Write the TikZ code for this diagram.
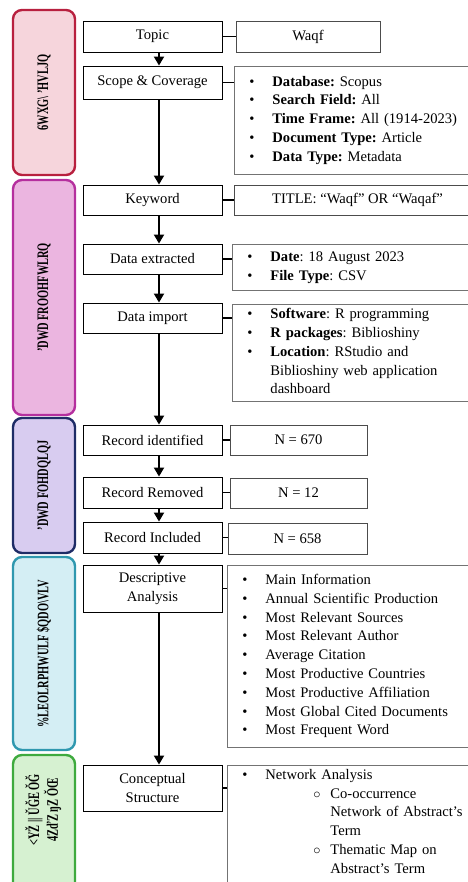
\documentclass[tikz,border=0pt]{standalone}
\usepackage{fontspec}
\setmainfont{Liberation Serif}
\usepackage{graphicx}
\usetikzlibrary{arrows.meta}
\setlength{\parindent}{0pt}
\frenchspacing

\definecolor{sdfill}{HTML}{F6D5DC}
\definecolor{sdline}{HTML}{B8203F}
\definecolor{dcfill}{HTML}{EBB5E0}
\definecolor{dcline}{HTML}{B52F9E}
\definecolor{clfill}{HTML}{D8CCF0}
\definecolor{clline}{HTML}{1E2C66}
\definecolor{bafill}{HTML}{D4EEF4}
\definecolor{baline}{HTML}{2F98AF}
\definecolor{vsfill}{HTML}{D6F1D1}
\definecolor{vsline}{HTML}{3EAA3E}

\newcommand{\sidetxt}[1]{\rotatebox{90}{\scalebox{0.65}[1]{\fontsize{16}{16}\selectfont\bfseries #1}}}

\begin{document}
\begin{tikzpicture}[
	x=1pt, y=-1pt,
	font=\fontsize{14.6}{18.8}\selectfont\frenchspacing,
	box/.style={draw, line width=0.9pt, minimum width=139pt, minimum height=30pt, inner sep=0pt, align=center},
	info/.style={draw=black!70, line width=0.9pt, minimum height=30pt, inner sep=0pt, align=center},
	list/.style={draw=black!55, line width=0.9pt, inner xsep=15pt, inner ysep=0pt, align=left, anchor=west},
	side/.style={line width=2.4pt, rounded corners=9pt, minimum width=62pt, inner sep=0pt},
	arr/.style={line width=2pt, -{Triangle[width=10pt,length=9pt]}},
	link/.style={line width=1.4pt}
	]
\useasboundingbox (0,0) rectangle (467,882);

% side phases
\node[side, draw=sdline, fill=sdfill, minimum height=165pt] (design) at (44,92.5) {\sidetxt{6WXG\textbackslash\ 'HVLJQ}};
\node[side, draw=dcline, fill=dcfill, minimum height=235pt] (collect) at (44,297.5) {\sidetxt{'DWD FROOHFWLRQ}};
\node[side, draw=clline, fill=clfill, minimum height=135pt] (clean) at (44,485.5) {\sidetxt{'DWD FOHDQLQJ}};
\node[side, draw=baline, fill=bafill, minimum height=193pt] (biblio) at (44,653.5) {\sidetxt{\%LEOLRPHWULF \$QDO\textbackslash VLV}};
\node[side, draw=vsline, fill=vsfill, minimum height=145pt] (visual) at (44,827.5) {};
\node (visualtxt) at ([yshift=-56pt]visual.north) {\sidetxt{\begin{tabular}{@{}c@{}}<YŽ || ŬĞE ŎĞ\\ 4ZďZ ŋZ ŎŒ\end{tabular}}};

% left column
\node[box, minimum height=31pt] (topic) at (152.5,36.5) {Topic};
\node[box, minimum height=33pt] (scope) at (152.5,82.5) {Scope \& Coverage};
\node[box] (keyword) at (152.5,200) {Keyword};
\node[box] (extracted) at (152.5,259) {Data extracted};
\node[box] (import) at (152.5,318) {Data import};
\node[box] (identified) at (152.5,440) {Record identified};
\node[box, minimum height=31pt] (removed) at (152.5,492.5) {Record Removed};
\node[box, minimum height=31pt] (included) at (152.5,537.5) {Record Included};
\node[box, minimum height=47pt] (descriptive) at (152.5,588.5) {Descriptive\\Analysis};
\node[box, minimum height=46pt] (conceptual) at (152.5,788) {Conceptual\\Structure};

% right column
\node[info, minimum width=144pt, minimum height=31pt] (waqf) at (308,36.5) {Waqf};
\node[list, text width=216pt, minimum height=108pt] (scopelist) at (234,120) {%
\begin{tabular}{@{}p{23pt}@{}l@{}}
\textbullet & \textbf{Database:} Scopus\\
\textbullet & \textbf{Search Field:} All\\
\textbullet & \textbf{Time Frame:} All (1914-2023)\\
\textbullet & \textbf{Document Type:} Article\\
\textbullet & \textbf{Data Type:} Metadata
\end{tabular}};
\node[info, minimum width=246pt, anchor=west] (keyterm) at (234,200) {TITLE: “Waqf” OR “Waqaf”};
\node[list, text width=218pt, minimum height=46pt] (exinfo) at (232,267) {%
\begin{tabular}{@{}p{23pt}@{}l@{}}
\textbullet & \textbf{Date}: 18 August 2023\\
\textbullet & \textbf{File Type}: CSV
\end{tabular}};
\node[list, text width=218pt, minimum height=97pt] (iminfo) at (232,352.5) {%
\begin{tabular}{@{}p{23pt}@{}l@{}}
\textbullet & \textbf{Software}: R programming\\
\textbullet & \textbf{R packages}: Biblioshiny\\
\textbullet & \textbf{Location}: RStudio and\\
 & Biblioshiny web application\\
 & dashboard
\end{tabular}};
\node[info, minimum width=137pt] (n670) at (298.5,440) {N = 670};
\node[info, minimum width=137pt] (n12) at (298.5,493) {N = 12};
\node[info, minimum width=139pt, minimum height=31pt] (n658) at (297.5,538.5) {N = 658};
\node[list, text width=223pt, minimum height=182pt] (desclist) at (227,656) {%
\begin{tabular}{@{}p{23pt}@{}l@{}}
\textbullet & Main Information\\
\textbullet & Annual Scientific Production\\
\textbullet & Most Relevant Sources\\
\textbullet & Most Relevant Author\\
\textbullet & Average Citation\\
\textbullet & Most Productive Countries\\
\textbullet & Most Productive Affiliation\\
\textbullet & Most Global Cited Documents\\
\textbullet & Most Frequent Word
\end{tabular}};
\node[list, text width=223pt, minimum height=152.6pt] (conclist) at (227,841.3) {%
\begin{tabular}{@{}p{23pt}@{}p{48pt}@{}p{17pt}@{}l@{}}
\textbullet & \multicolumn{3}{@{}l@{}}{Network Analysis}\\
 & & $\circ$ & Co-occurrence\\
 & & & Network of Abstract’s\\
 & & & Term\\
 & & $\circ$ & Thematic Map on\\
 & & & Abstract’s Term\\
 & & & \\
 & & &
\end{tabular}};

% flow
\coordinate (spine) at (159,0);
\draw[arr] (topic.south -| spine) -- (scope.north -| spine);
\draw[arr] (scope.south -| spine) -- (keyword.north -| spine);
\draw[arr] (keyword.south -| spine) -- (extracted.north -| spine);
\draw[arr] (extracted.south -| spine) -- (import.north -| spine);
\draw[arr] (import.south -| spine) -- (identified.north -| spine);
\draw[arr] (identified.south -| spine) -- (removed.north -| spine);
\draw[arr] (removed.south -| spine) -- (included.north -| spine);
\draw[arr] (included.south -| spine) -- (descriptive.north -| spine);
\draw[arr] (descriptive.south -| spine) -- (conceptual.north -| spine);

% links to details
\draw[link] (topic.east) -- (waqf.west);
\draw[link] (scope.east) -- (scope.east -| scopelist.west);
\draw[link] (keyword.east) -- (keyterm.west);
\draw[link] (extracted.east) -- (extracted.east -| exinfo.west);
\draw[link] (import.east) -- (import.east -| iminfo.west);
\draw[link] (identified.east) -- (n670.west);
\draw[link] (removed.east) -- (removed.east -| n12.west);
\draw[link] (included.east) -- (included.east -| n658.west);
\draw[link] (descriptive.east) -- (descriptive.east -| desclist.west);
\draw[link] (conceptual.east) -- (conceptual.east -| conclist.west);

\end{tikzpicture}
\end{document}
